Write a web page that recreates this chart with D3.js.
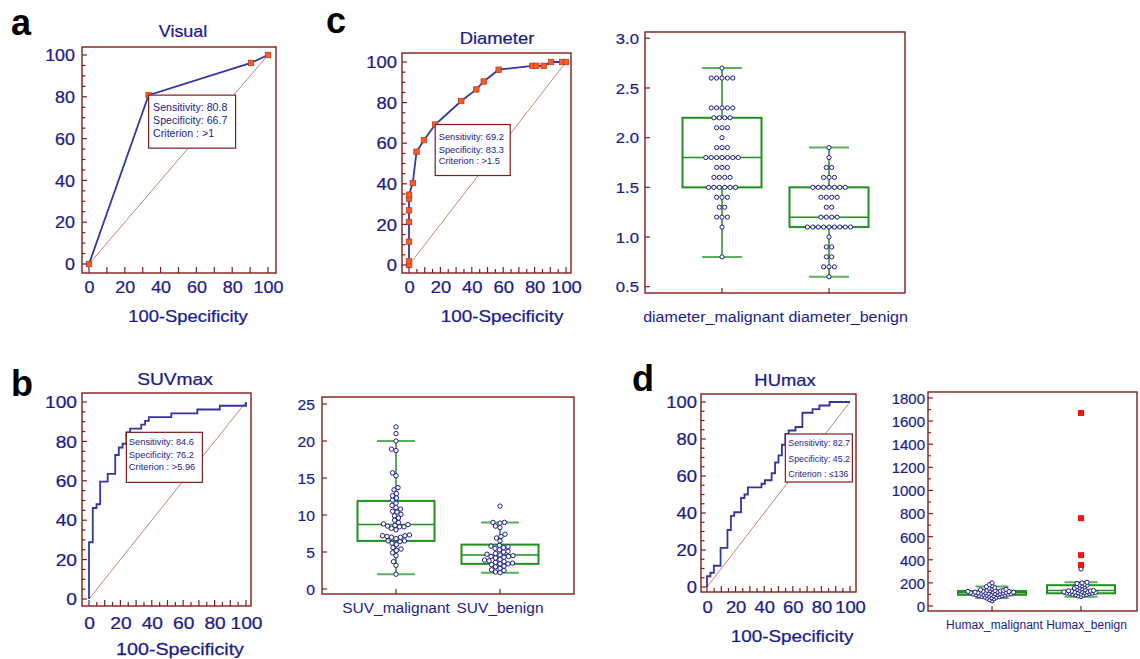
<!DOCTYPE html>
<html><head><meta charset="utf-8">
<script src="https://cdn.jsdelivr.net/npm/d3@7"></script>
<style>body{margin:0;background:#fff}svg{display:block}</style>
</head><body>
<svg id="chart" width="1140" height="659"></svg>
<script>
// ================= DATA =================
const rocTicks = [0, 20, 40, 60, 80, 100];

// a: Visual ROC
const rocVisualFpr = [0, 33.3, 90.5, 100];
const rocVisualTpr = [0, 80.8, 96.2, 100];
// c: Diameter ROC
const rocDiameterFpr = [0, 0, 0, 0, 0, 0, 0, 2.4, 4.8, 9.5, 16.7, 33.3, 42.9, 47.6, 57.1, 78.6, 81.0, 85.7, 90.5, 97.6, 100];
const rocDiameterTpr = [0, 1.9, 11.5, 21.2, 26.9, 32.7, 34.6, 40.4, 55.8, 61.5, 69.2, 80.8, 86.5, 90.4, 96.2, 98.1, 98.1, 98.1, 100, 100, 100];
// b: SUVmax ROC (step)
const rocSuvFpr = [0, 0, 2.4, 4.8, 7.1, 11.9, 16.7, 19.0, 21.4, 23.8, 26.2, 33.3, 35.7, 38.1, 52.4, 69.0, 83.3, 100];
const rocSuvTpr = [0, 28.8, 46.2, 48.1, 59.6, 63.5, 73.1, 76.9, 78.8, 84.6, 86.5, 88.5, 90.4, 92.3, 94.2, 96.2, 98.1, 100];
// d: HUmax ROC (step)
const rocHuFpr = [0, 0, 2.4, 4.8, 9.5, 14.3, 14.3, 16.7, 19.0, 23.8, 26.2, 28.6, 38.1, 40.5, 45.2, 47.6, 50.0, 52.4, 54.8, 57.1, 61.9, 66.7, 73.8, 78.6, 85.7, 100];
const rocHuTpr = [0, 5.8, 7.7, 11.5, 21.2, 23.1, 30.8, 38.5, 40.4, 48.1, 50.0, 53.8, 55.8, 57.7, 61.5, 67.3, 71.2, 76.9, 82.7, 84.6, 86.5, 94.2, 96.2, 98.1, 100, 100];

// criterion points and texts
const critVisual = [33.3, 80.8];
const critDiameter = [16.7, 69.2];
const critSuv = [23.8, 84.6];
const critHu = [54.8, 82.7];
const textVisual = ["Sensitivity: 80.8", "Specificity: 66.7", "Criterion : >1"];
const textDiameter = ["Sensitivity: 69.2", "Specificity: 83.3", "Criterion : >1.5"];
const textSuv = ["Sensitivity: 84.6", "Specificity: 76.2", "Criterion : >5.96"];
const textHu = ["Sensitivity: 82.7", "Specificity: 45.2", "Criterion : \u2264136"];

// Box plots: categories
const diameterCats = ["diameter_malignant", "diameter_benign"];
const suvCats = ["SUV_malignant", "SUV_benign"];
const huCats = ["Humax_malignant", "Humax_benign"];

// box stats [low whisker, Q1, median, Q3, high whisker]
const diameterBoxMalignant = [0.8, 1.5, 1.8, 2.2, 2.7];
const diameterBoxBenign = [0.6, 1.1, 1.2, 1.5, 1.9];
const suvBoxMalignant = [2.0, 6.5, 8.7, 11.9, 20.0];
const suvBoxBenign = [2.2, 3.4, 4.6, 6.0, 9.0];
const huBoxMalignant = [70, 97, 115, 130, 168];
const huBoxBenign = [80, 110, 135, 180, 205];

// diameter values (cm) with counts
const diameterMalignantValues = [2.7, 2.6, 2.3, 2.2, 2.1, 2.0, 1.9, 1.8, 1.7, 1.6, 1.5, 1.4, 1.3, 1.2, 1.1, 0.8];
const diameterMalignantCounts = [1, 5, 5, 4, 3, 1, 3, 7, 3, 4, 6, 3, 2, 3, 1, 1];
const diameterBenignValues = [1.9, 1.8, 1.7, 1.6, 1.5, 1.4, 1.3, 1.2, 1.1, 1.0, 0.9, 0.8, 0.7, 0.6];
const diameterBenignCounts = [1, 1, 2, 3, 7, 4, 2, 4, 9, 1, 2, 2, 3, 1];

// SUVmax values
const suvMalignant = [2.0, 3.2, 3.7, 4.5, 4.9, 5.2, 5.4, 5.6, 6.0, 6.2, 6.4, 6.5, 6.5, 6.8, 7.0, 7.0, 7.1, 7.2, 7.2, 7.3,
  8.0, 8.2, 8.4, 8.4, 8.5, 8.6, 8.7, 8.8, 9.0, 9.3, 9.6, 9.9, 10.1, 10.4, 10.5, 10.8, 11.0, 11.3, 11.6, 12.0,
  12.3, 12.6, 12.9, 13.4, 13.7, 15.3, 15.7, 18.7, 18.9, 20.0, 21.0, 21.9];
const suvBenign = [2.2, 2.3, 2.5, 2.6, 2.8, 3.0, 3.1, 3.3, 3.4, 3.4, 3.5, 3.6, 3.7, 3.8, 3.9, 4.0, 4.2, 4.3, 4.4, 4.4,
  4.5, 4.6, 4.7, 4.8, 5.0, 5.1, 5.3, 5.5, 5.6, 5.7, 5.8, 5.9, 6.5, 6.9, 7.1, 7.4, 8.3, 8.5, 8.9, 9.0, 9.0, 11.2];

// HUmax values
const huMalignant = [45, 55, 62, 68, 72, 75, 78, 80, 83, 85, 88, 90, 92, 94, 95, 97, 98, 100, 101, 102,
  104, 105, 106, 108, 110, 111, 112, 114, 115, 116, 118, 119, 120, 122, 123, 125, 126, 128, 130, 132,
  134, 135, 136, 140, 145, 150, 155, 160, 168, 175, 185, 200];
const huBenign = [82, 88, 95, 98, 100, 103, 105, 108, 110, 112, 113, 115, 117, 118, 120, 122, 124, 126, 128, 130,
  132, 134, 136, 140, 145, 150, 155, 160, 165, 170, 175, 180, 185, 190, 195, 200, 205, 320, 355, 440, 760, 1670];
const huBenignFarOut = [355, 440, 760, 1670];

const suvTicks = [0, 5, 10, 15, 20, 25];
const diameterTicks = [0.5, 1.0, 1.5, 2.0, 2.5, 3.0];
const huTicks = [0, 200, 400, 600, 800, 1000, 1200, 1400, 1600, 1800];

// ================= STYLE =================
const FONT = "'Liberation Sans', Arial, Helvetica, sans-serif";
const NAVY = "#1c1c88";
const FRAME = "#7f1d1d";
const LINE = "#3535a0";
const DIAG = "#c98078";
const GREEN = "#1f8f1f";
const GREEN2 = "#5fae5f";
const MK = "#ff5a1f";

const svg = d3.select("#chart");

function txt(g, x, y, s, o = {}) {
  return g.append("text")
    .attr("transform", `translate(${x},${y}) scale(${o.sx || 1},1)`)
    .attr("font-family", FONT)
    .attr("font-size", o.size || 16)
    .attr("font-weight", o.weight || "normal")
    .attr("fill", o.fill || NAVY)
    .attr("stroke", o.stroke || "none")
    .attr("stroke-width", o.sw || 0)
    .attr("text-anchor", o.anchor || "start")
    .text(s);
}

// ================= ROC PANEL =================
function rocPanel(c) {
  const g = svg.append("g");
  const x = d3.scaleLinear().domain([0, 100]).range(c.xr);
  const y = d3.scaleLinear().domain([0, 100]).range(c.yr);
  const [fx0, fy0, fx1, fy1] = c.frame;

  g.append("line").attr("x1", x(0)).attr("y1", y(0)).attr("x2", x(100)).attr("y2", y(100))
    .attr("stroke", DIAG).attr("stroke-width", 1);

  const pts = c.fpr.map((f, i) => [f, c.tpr[i]]);
  const ln = d3.line().x(d => x(d[0])).y(d => y(d[1])).curve(c.step ? d3.curveStepAfter : d3.curveLinear);
  g.append("path").attr("d", ln(pts)).attr("fill", "none").attr("stroke", LINE).attr("stroke-width", 1.8);

  if (c.markers) {
    g.selectAll("rect.mk").data(pts).join("rect").attr("class", "mk")
      .attr("x", d => x(d[0]) - 2.7).attr("y", d => y(d[1]) - 2.7)
      .attr("width", 5.4).attr("height", 5.4)
      .attr("fill", MK).attr("stroke", "#b2402a").attr("stroke-width", 0.8);
  }

  g.append("rect").attr("x", fx0).attr("y", fy0).attr("width", fx1 - fx0).attr("height", fy1 - fy0)
    .attr("fill", "none").attr("stroke", FRAME).attr("stroke-width", 1.4);

  // left ticks (inside)
  g.selectAll("line.yt").data(d3.range(0, 101, 5)).join("line").attr("class", "yt")
    .attr("x1", fx0).attr("x2", d => fx0 + (d % 20 === 0 ? 5 : 3.5))
    .attr("y1", d => y(d)).attr("y2", d => y(d))
    .attr("stroke", FRAME).attr("stroke-width", 1.2);
  // bottom ticks (inside)
  g.selectAll("line.xt").data(d3.range(0, 101, c.xStep)).join("line").attr("class", "xt")
    .attr("x1", d => x(d)).attr("x2", d => x(d))
    .attr("y1", fy1).attr("y2", d => fy1 - (d % 10 === 0 ? 6 : 4))
    .attr("stroke", FRAME).attr("stroke-width", 1.2);

  // y labels
  const ay = d3.axisLeft(y).tickValues(rocTicks).tickSize(0).tickPadding(c.gap / c.sx);
  const gy = g.append("g").attr("transform", `translate(${fx0},0)`).call(ay)
    .attr("font-family", FONT).attr("font-size", 16).attr("color", NAVY);
  gy.select(".domain").remove();
  gy.selectAll("text").attr("transform", `scale(${c.sx},1)`).attr("dy", "0.36em")
    .attr("stroke", NAVY).attr("stroke-width", 0.25);

  // x labels
  const ax = d3.axisBottom(x).tickValues(rocTicks).tickSize(0).tickPadding(0);
  const gx = g.append("g").attr("transform", `translate(0,${c.xlabY})`).call(ax)
    .attr("font-family", FONT).attr("font-size", 16).attr("color", NAVY);
  gx.select(".domain").remove();
  gx.selectAll("text").attr("y", 0).attr("dy", 0).attr("transform", `scale(${c.sx},1)`)
    .attr("stroke", NAVY).attr("stroke-width", 0.25);

  txt(g, c.title[0], c.title[1], c.title[2], { size: 16, sx: c.sx, anchor: "middle", stroke: NAVY, sw: 0.25 });
  txt(g, c.xtitle[0], c.xtitle[1], "100-Specificity", { size: 16, sx: c.sx + 0.03, anchor: "middle", stroke: NAVY, sw: 0.25 });
  txt(g, c.letter[0], c.letter[1], c.letter[2], { size: 36, weight: "bold", fill: "#000" });

  // criterion box
  const bx = x(c.crit[0]), by = y(c.crit[1]);
  g.append("rect").attr("x", bx).attr("y", by).attr("width", c.box.w).attr("height", c.box.h)
    .attr("fill", "#fff").attr("stroke", FRAME).attr("stroke-width", 1.2);
  c.texts.forEach((t, i) => txt(g, bx + c.box.tx, by + c.box.lines[i], t, { size: c.box.fs, sx: c.box.sx || 1 }));
}

// ================= BOX PANEL =================
function rowLayout(values, counts, ys, cx, sp) {
  const out = [];
  values.forEach((v, i) => {
    const n = counts[i];
    for (let k = 0; k < n; k++) out.push({ x: cx + (k - (n - 1) / 2) * sp, y: ys(v) });
  });
  return out;
}
function swarmLayout(values, ys, cx, minD) {
  const out = [];
  const sorted = values.slice().sort((a, b) => a - b);
  for (const v of sorted) {
    const y = ys(v);
    let px = cx;
    for (let k = 0; k < 600; k++) {
      const off = (k % 2 === 0 ? 1 : -1) * Math.ceil(k / 2) * 0.5;
      const xx = cx + off;
      if (out.every(p => (p.x - xx) ** 2 + (p.y - y) ** 2 >= minD * minD)) { px = xx; break; }
    }
    out.push({ x: px, y });
  }
  return out;
}

function boxPanel(c) {
  const g = svg.append("g");
  const [fx0, fy0, fx1, fy1] = c.frame;
  const y = d3.scaleLinear().domain(c.yd).range(c.yr);
  const x = d3.scalePoint().domain(c.names).range(c.cx);

  g.append("rect").attr("x", fx0).attr("y", fy0).attr("width", fx1 - fx0).attr("height", fy1 - fy0)
    .attr("fill", "none").attr("stroke", FRAME).attr("stroke-width", 1.4);

  g.selectAll("line.yt").data(c.ticks).join("line").attr("class", "yt")
    .attr("x1", fx0).attr("x2", fx0 + 5).attr("y1", d => y(d)).attr("y2", d => y(d))
    .attr("stroke", FRAME).attr("stroke-width", 1.2);
  if (c.minor) {
    g.selectAll("line.ym").data(c.minor).join("line").attr("class", "ym")
      .attr("x1", fx0).attr("x2", fx0 + 3).attr("y1", d => y(d)).attr("y2", d => y(d))
      .attr("stroke", FRAME).attr("stroke-width", 1.1);
  }
  g.selectAll("line.xt").data(c.names).join("line").attr("class", "xt")
    .attr("x1", d => x(d)).attr("x2", d => x(d)).attr("y1", fy1).attr("y2", fy1 - 5)
    .attr("stroke", FRAME).attr("stroke-width", 1.2);

  const ay = d3.axisLeft(y).tickValues(c.ticks).tickFormat(c.fmt).tickSize(0).tickPadding(c.gap / c.sx);
  const gy = g.append("g").attr("transform", `translate(${fx0},0)`).call(ay)
    .attr("font-family", FONT).attr("font-size", c.fs).attr("color", NAVY);
  gy.select(".domain").remove();
  gy.selectAll("text").attr("transform", `scale(${c.sx},1)`).attr("dy", "0.36em")
    .attr("stroke", NAVY).attr("stroke-width", 0.2);

  c.names.forEach((nm, i) => {
    const s = c.stats[i];
    const cx = x(nm);
    const bw = c.boxW, cw = c.capW;
    // whiskers
    g.append("line").attr("x1", cx).attr("x2", cx).attr("y1", y(s[0])).attr("y2", y(s[1]))
      .attr("stroke", GREEN).attr("stroke-width", 1.5);
    g.append("line").attr("x1", cx).attr("x2", cx).attr("y1", y(s[3])).attr("y2", y(s[4]))
      .attr("stroke", GREEN).attr("stroke-width", 1.5);
    [s[0], s[4]].forEach(v => g.append("line").attr("x1", cx - cw / 2).attr("x2", cx + cw / 2)
      .attr("y1", y(v)).attr("y2", y(v)).attr("stroke", GREEN2).attr("stroke-width", 2));
    // box
    g.append("rect").attr("x", cx - bw / 2).attr("y", y(s[3])).attr("width", bw).attr("height", y(s[1]) - y(s[3]))
      .attr("fill", "none").attr("stroke", GREEN).attr("stroke-width", 2);
    g.append("line").attr("x1", cx - bw / 2).attr("x2", cx + bw / 2).attr("y1", y(s[2])).attr("y2", y(s[2]))
      .attr("stroke", GREEN).attr("stroke-width", 1.5);
    // dots
    const dots = c.layout === "rows"
      ? rowLayout(c.data[i].values, c.data[i].counts, y, cx, c.sp)
      : swarmLayout(c.data[i], y, cx, c.minD);
    g.selectAll(null).data(dots).join("circle")
      .attr("cx", d => d.x).attr("cy", d => d.y).attr("r", c.r)
      .attr("fill", "#fff").attr("stroke", NAVY).attr("stroke-width", 1);
    if (c.farOut && c.farOut[i]) {
      g.selectAll(null).data(c.farOut[i]).join("rect")
        .attr("x", cx - 3).attr("y", d => y(d) - 3).attr("width", 6).attr("height", 6)
        .attr("fill", "#ff1010");
    }
  });

  // category labels
  const labs = c.names.map(nm => txt(g, 0, c.labY, nm, { size: c.cfs, sx: c.csx, anchor: "start" }));
  const w = labs.map(t => t.node().getComputedTextLength() * c.csx);
  const cxs = c.names.map(nm => x(nm));
  if (cxs[0] + w[0] / 2 + 3 > cxs[1] - w[1] / 2) {
    const sp = c.cfs * 0.278 * c.csx;
    const total = w[0] + sp + w[1];
    const start = (cxs[0] + cxs[1]) / 2 - total / 2;
    labs[0].attr("transform", `translate(${start},${c.labY}) scale(${c.csx},1)`);
    labs[1].attr("transform", `translate(${start + w[0] + sp},${c.labY}) scale(${c.csx},1)`);
  } else {
    labs.forEach((t, i) => t.attr("transform", `translate(${cxs[i] - w[i] / 2},${c.labY}) scale(${c.csx},1)`));
  }
}

// ================= DRAW =================
rocPanel({
  frame: [82, 47, 276, 273], xr: [89, 268], yr: [264, 55], sx: 1.12, gap: 7, xStep: 10, xlabY: 293,
  fpr: rocVisualFpr, tpr: rocVisualTpr, markers: true, step: false,
  title: [183, 37, "Visual"], xtitle: [188, 322], letter: [11, 35, "a"],
  crit: critVisual, texts: textVisual, box: { w: 87, h: 53, fs: 10.6, tx: 4.5, lines: [16, 29, 42] }
});
rocPanel({
  frame: [402, 53, 571, 273], xr: [409, 566], yr: [265, 62], sx: 1.15, gap: 5, xStep: 5, xlabY: 293,
  fpr: rocDiameterFpr, tpr: rocDiameterTpr, markers: true, step: false,
  title: [497, 44, "Diameter"], xtitle: [502, 322], letter: [326, 33, "c"],
  crit: critDiameter, texts: textDiameter, box: { w: 75, h: 51, fs: 9.3, tx: 3.5, lines: [15.5, 28, 39.5] }
});
rocPanel({
  frame: [82, 393, 251, 606], xr: [89, 246], yr: [599, 402], sx: 1.2, gap: 5, xStep: 5, xlabY: 629,
  fpr: rocSuvFpr, tpr: rocSuvTpr, markers: false, step: true,
  title: [175, 385, "SUVmax"], xtitle: [180, 655], letter: [11, 396, "b"],
  crit: critSuv, texts: textSuv, box: { w: 76, h: 50, fs: 9.3, tx: 2.5, lines: [12.5, 25.5, 37.5] }
});
rocPanel({
  frame: [701, 394, 856, 592], xr: [707, 850], yr: [587, 402], sx: 1.15, gap: 4, xStep: 5, xlabY: 613,
  fpr: rocHuFpr, tpr: rocHuTpr, markers: false, step: true,
  title: [785, 386, "HUmax"], xtitle: [792, 642], letter: [632, 391, "d"],
  crit: critHu, texts: textHu, box: { w: 67, h: 48, fs: 8.8, tx: 3, lines: [11.5, 27.5, 43] }
});

boxPanel({
  frame: [645, 32, 905, 293], yd: [0.5, 3.0], yr: [286.7, 38.3], ticks: diameterTicks, fmt: d3.format(".1f"),
  fs: 14.5, sx: 1.15, gap: 6, names: diameterCats, cx: [722, 829],
  stats: [diameterBoxMalignant, diameterBoxBenign], boxW: 79, capW: 40,
  layout: "rows", data: [{ values: diameterMalignantValues, counts: diameterMalignantCounts },
    { values: diameterBenignValues, counts: diameterBenignCounts }], sp: 5.4, r: 2.1,
  labY: 322, cfs: 15, csx: 1.07
});
boxPanel({
  frame: [322, 397, 574, 594], yd: [0, 25], yr: [589, 404], ticks: suvTicks, fmt: d3.format("d"),
  fs: 14, sx: 1.12, gap: 7, names: suvCats, cx: [396, 500],
  stats: [suvBoxMalignant, suvBoxBenign], boxW: 77, capW: 38,
  layout: "swarm", data: [suvMalignant, suvBenign], minD: 4.4, r: 2.2,
  labY: 613, cfs: 15.5, csx: 1.0
});
boxPanel({
  frame: [928, 392, 1137, 611], yd: [0, 1800], yr: [606, 398], ticks: huTicks, fmt: d3.format("d"),
  minor: d3.range(100, 1800, 200),
  fs: 15, sx: 1.0, gap: 3, names: huCats, cx: [992, 1081],
  stats: [huBoxMalignant, huBoxBenign], boxW: 68, capW: 33,
  layout: "swarm", data: [huMalignant, huBenign], minD: 2.7, r: 2.1,
  farOut: [null, huBenignFarOut],
  labY: 629, cfs: 12, csx: 1.0
});
</script>
</body></html>
